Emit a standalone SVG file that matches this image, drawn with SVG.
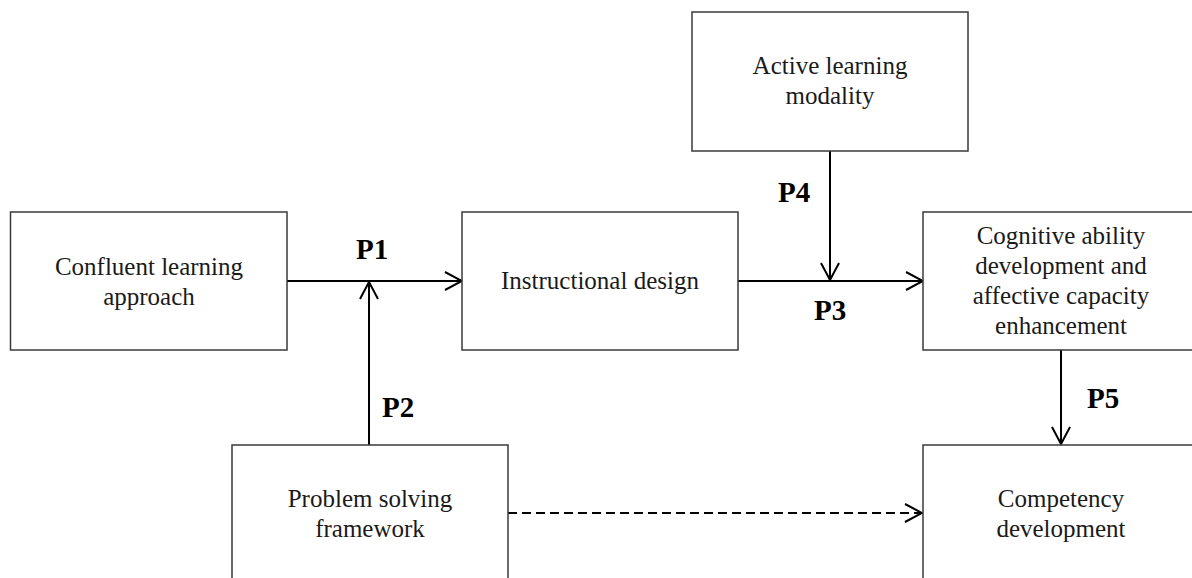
<svg xmlns="http://www.w3.org/2000/svg" width="1192" height="578" viewBox="0 0 1192 578">
  <style>
    .box { fill: #ffffff; stroke: #3a3a3a; stroke-width: 1.5; }
    .txt { font-family: "Liberation Serif", "Times New Roman", serif; font-size: 25px; fill: #1a1a1a; text-anchor: middle; }
    .lbl { font-family: "Liberation Serif", "Times New Roman", serif; font-size: 29px; font-weight: bold; fill: #000000; }
    .conn { stroke: #000000; stroke-width: 2; fill: none; marker-end: url(#arrow); }
    .dash { stroke-dasharray: 9 5; }
  </style>
  <defs>
    <marker id="arrow" viewBox="0 0 20 20" refX="19" refY="10" markerWidth="20" markerHeight="20" markerUnits="userSpaceOnUse" orient="auto">
      <path d="M2,1 L19,10 L2,19" fill="none" stroke="#000000" stroke-width="2"/>
    </marker>
  </defs>
  <rect width="1192" height="578" fill="#ffffff"/>

  <g id="connectors">
    <line class="conn" x1="287" y1="281" x2="462" y2="281"/>
    <line class="conn" x1="369" y1="445" x2="369" y2="282"/>
    <line class="conn" x1="738" y1="281" x2="923" y2="281"/>
    <line class="conn" x1="830" y1="151" x2="830" y2="280"/>
    <line class="conn" x1="1061" y1="350" x2="1061" y2="444"/>
    <line class="conn dash" x1="508" y1="513" x2="922" y2="513"/>
    <text class="lbl" x="356" y="259">P1</text>
    <text class="lbl" x="382" y="417">P2</text>
    <text class="lbl" x="814" y="320">P3</text>
    <text class="lbl" x="778" y="202">P4</text>
    <text class="lbl" x="1087" y="408">P5</text>
  </g>

  <g id="confluent">
    <rect class="box" x="10.5" y="212" width="276.5" height="138"/>
    <text class="txt" x="149" y="275">Confluent learning</text>
    <text class="txt" x="149" y="305">approach</text>
  </g>

  <g id="instructional">
    <rect class="box" x="462" y="212" width="276" height="138"/>
    <text class="txt" x="600" y="289">Instructional design</text>
  </g>

  <g id="active">
    <rect class="box" x="692" y="12" width="276" height="139"/>
    <text class="txt" x="830" y="74">Active learning</text>
    <text class="txt" x="830" y="104">modality</text>
  </g>

  <g id="cognitive">
    <rect class="box" x="923" y="212" width="276" height="138"/>
    <text class="txt" x="1061" y="244">Cognitive ability</text>
    <text class="txt" x="1061" y="274">development and</text>
    <text class="txt" x="1061" y="304">affective capacity</text>
    <text class="txt" x="1061" y="334">enhancement</text>
  </g>

  <g id="problem">
    <rect class="box" x="232" y="445" width="276" height="160"/>
    <text class="txt" x="370" y="507">Problem solving</text>
    <text class="txt" x="370" y="537">framework</text>
  </g>

  <g id="competency">
    <rect class="box" x="923" y="445" width="276" height="160"/>
    <text class="txt" x="1061" y="507">Competency</text>
    <text class="txt" x="1061" y="537">development</text>
  </g>
</svg>
